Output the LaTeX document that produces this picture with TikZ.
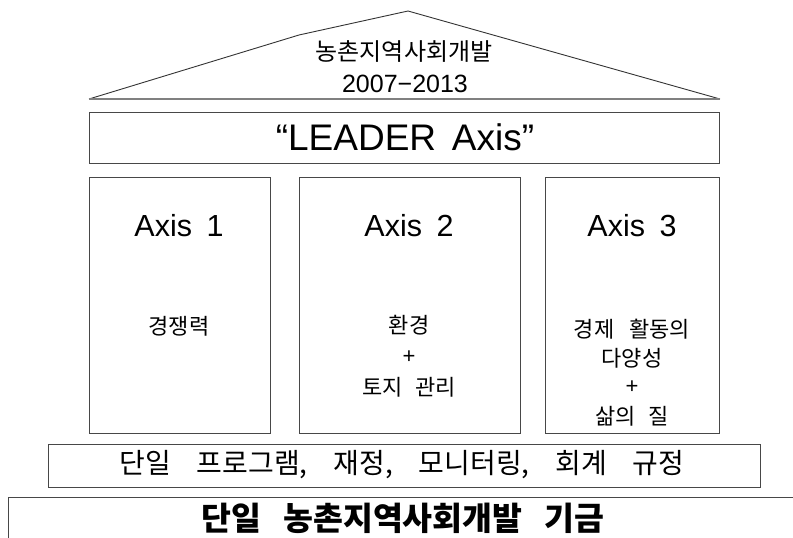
\documentclass[tikz,border=0pt]{standalone}
\usepackage{fontspec}
\setmainfont{Noto Sans CJK KR}
\newfontfamily\lat{Liberation Sans}
\begin{document}
\begin{tikzpicture}[x=1pt,y=-1pt,
  box/.style={draw=black!72,line width=1pt,inner sep=0pt,outer sep=0pt,anchor=north west},
  lbl/.style={inner sep=0pt,anchor=center},
  small/.style={lbl,font=\fontsize{22}{24}\selectfont},
  plus/.style={lbl,font=\lat\fontsize{22}{24}\selectfont},
  axist/.style={lbl,font=\lat\fontsize{30.5}{34}\selectfont}]
\useasboundingbox (0,0) rectangle (793,538);
% roof
\coordinate (rl) at (89,99);
\coordinate (rk) at (299,35);
\coordinate (ra) at (408,11);
\coordinate (rr) at (720,99);
\draw[black!80,line width=0.9pt] (rl) -- (rk) -- (ra) -- (rr);
\draw[black!50,line width=1.4pt] (rl) -- (rr);
\node[lbl,font=\fontsize{24}{26}\selectfont] (t1) at (404,51) {농촌지역사회개발};
\node[lbl,font=\lat\fontsize{25}{28}\selectfont] (t2) at (405,84) {2007−2013};
% leader
\node[box,minimum width=630pt,minimum height=51pt] (leader) at (89,112) {};
\node[lbl,font=\lat\fontsize{37}{40}\selectfont] (leadert) at (405,137) {“LEADER\hspace{0.15em} Axis”};
% axis boxes
\node[box,minimum width=181pt,minimum height=256pt] (a1) at (89,177) {};
\node[box,minimum width=221pt,minimum height=256pt] (a2) at (299,177) {};
\node[box,minimum width=174pt,minimum height=256pt] (a3) at (545,177) {};
\node[axist] (a1t) at (179,226) {Axis\hspace{0.2em} 1};
\node[axist] (a2t) at (409,226) {Axis\hspace{0.2em} 2};
\node[axist] (a3t) at (632,226) {Axis\hspace{0.2em} 3};
\node[small] (a1a) at (179,326) {경쟁력};
\node[small] (a2a) at (409,325) {환경};
\node[plus] (a2b) at (409,357) {+};
\node[small] (a2c) at (409,387) {토지\hspace{0.35em} 관리};
\node[small] (a3a) at (632,329) {경제\hspace{0.45em} 활동의};
\node[small] (a3b) at (632,358) {다양성};
\node[plus] (a3c) at (632,387) {+};
\node[small] (a3d) at (632,416) {삶의\hspace{0.35em} 질};
% program box
\node[box,minimum width=712pt,minimum height=43pt] (prog) at (48,444) {};
\node[lbl,font=\fontsize{28}{30}\selectfont] (progt) at (402,465) {단일\hspace{0.7em} 프로그램,\hspace{0.7em} 재정,\hspace{0.7em} 모니터링,\hspace{0.7em} 회계\hspace{0.7em} 규정};
% fund
\coordinate (f1) at (8,540);
\coordinate (f2) at (8,497);
\coordinate (f3) at (795,497);
\draw[black!72,line width=1pt] (f1) -- (f2) -- (f3);
\node[lbl,font=\bfseries\fontsize{32.5}{35}\selectfont] (fund) at (403,518) {단일\hspace{0.45em} 농촌지역사회개발\hspace{0.45em} 기금};
\end{tikzpicture}
\end{document}
